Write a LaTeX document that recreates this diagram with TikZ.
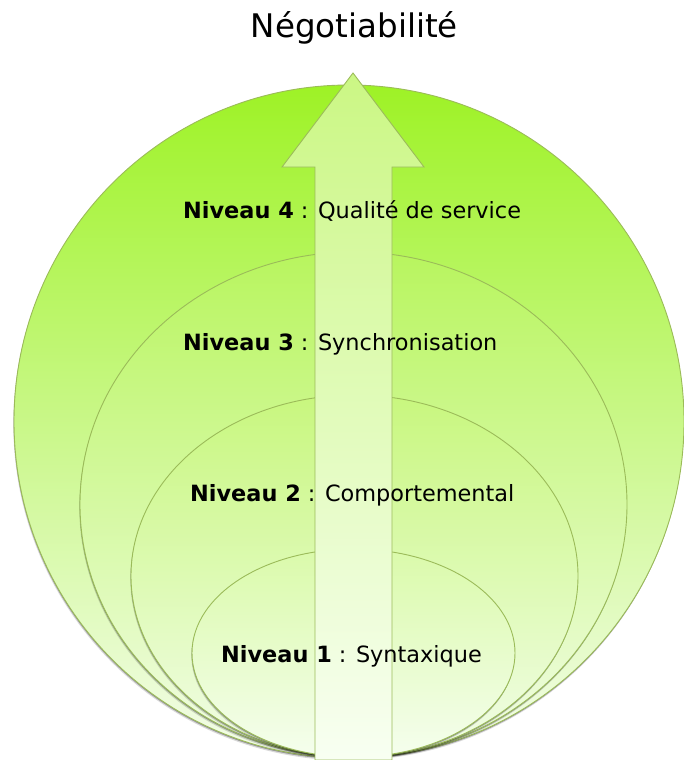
\documentclass[tikz,border=0pt]{standalone}
\usepackage{fontspec}
\setmainfont{DejaVu Sans}
\definecolor{edgegreen}{HTML}{9BBB59}
\definecolor{eFourTop}{HTML}{9EF226}
\definecolor{eFourBot}{HTML}{F4FDEA}
\definecolor{eThreeTop}{HTML}{B8F55E}
\definecolor{eThreeBot}{HTML}{F2FDE6}
\definecolor{eTwoTop}{HTML}{C8F77E}
\definecolor{eTwoBot}{HTML}{F2FDE8}
\definecolor{eOneTop}{HTML}{DAFAAA}
\definecolor{eOneBot}{HTML}{F5FEEE}
\definecolor{arrTop}{HTML}{CBF784}
\definecolor{arrBot}{HTML}{F8FFF2}
\tikzset{
  lvl/.style={draw=edgegreen, line width=0.9pt},
  shadowA/.style={fill=black, opacity=0.15},
  shadowB/.style={fill=black, opacity=0.30},
  lbl/.style={anchor=base west, inner sep=0pt, font=\fontsize{22.4}{26}\selectfont},
  ttl/.style={anchor=base, inner sep=0pt, font=\fontsize{32.5}{38}\selectfont}
}
\begin{document}
\begin{tikzpicture}[x=1pt,y=-1pt]
\useasboundingbox (0,0) rectangle (684,760);
% level 4 (outer)
\fill[shadowA] (348.3,424) ellipse (335 and 336.5);
\fill[shadowB] (348.7,422.8) ellipse (335 and 336.5);
\path[lvl, top color=eFourTop, bottom color=eFourBot] (349,421.5) ellipse (335 and 336.5);
% level 3
\fill[shadowA] (352.8,507) ellipse (273.5 and 252.5);
\fill[shadowB] (353.2,505.8) ellipse (273.5 and 252.5);
\path[lvl, top color=eThreeTop, bottom color=eThreeBot] (353.5,504.5) ellipse (273.5 and 252.5);
% level 2
\fill[shadowA] (353.8,578.5) ellipse (223.5 and 181);
\fill[shadowB] (354.2,577.3) ellipse (223.5 and 181);
\path[lvl, top color=eTwoTop, bottom color=eTwoBot] (354.5,576) ellipse (223.5 and 181);
% level 1
\fill[shadowA] (352.8,655.5) ellipse (161.5 and 104);
\fill[shadowB] (353.2,654.3) ellipse (161.5 and 104);
\path[lvl, top color=eOneTop, bottom color=eOneBot] (353.5,653) ellipse (161.5 and 104);
% arrow
\path[draw=edgegreen, line width=0.9pt, top color=arrTop, bottom color=arrBot]
  (315,760) -- (315,167) -- (282,167) -- (353,73) -- (424,167) -- (392,167) -- (392,760) -- cycle;
% texts
\node[ttl] (title) at (354.4,37.7) {Négotiabilité};
\node[lbl] (n4) at (183,218) {\textbf{Niveau 4} : Qualité de service};
\node[lbl] (n3) at (183,350) {\textbf{Niveau 3} : Synchronisation};
\node[lbl] (n2) at (190,501) {\textbf{Niveau 2} : Comportemental};
\node[lbl] (n1) at (221,662) {\textbf{Niveau 1} : Syntaxique};
\end{tikzpicture}
\end{document}
